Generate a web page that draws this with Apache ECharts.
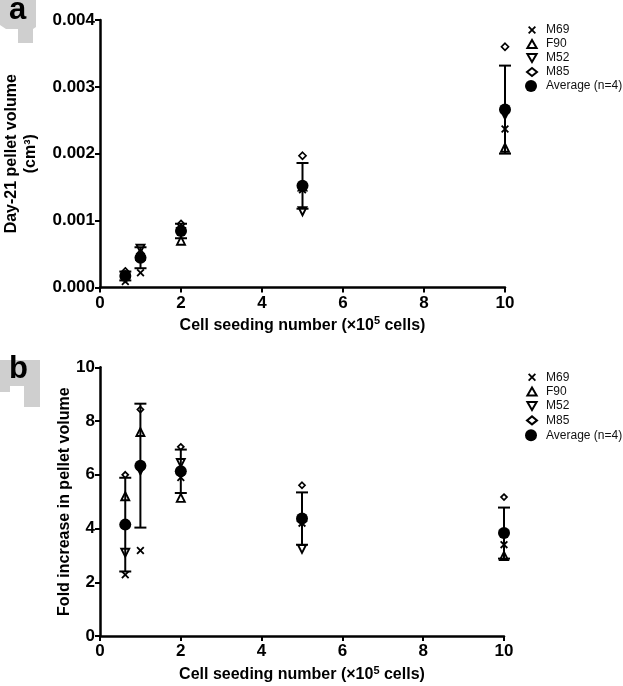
<!DOCTYPE html>
<html>
<head>
<meta charset="utf-8">
<script src="https://cdn.jsdelivr.net/npm/echarts@6/dist/echarts.min.js"></script>
<style>
html,body{margin:0;padding:0;background:#fff;}
#chart{width:623px;height:686px;}
</style>
</head>
<body>
<div id="chart"></div>
<script>
// ---- data ----
const seedingNumbers = [0.625, 1, 2, 5, 10];           // x10^5 cells
const xTicks = [0, 2, 4, 6, 8, 10];
const volumeTicks = [0, 0.001, 0.002, 0.003, 0.004];
const foldTicks = [0, 2, 4, 6, 8, 10];

// Panel a: Day-21 pellet volume (cm^3)
const volM69 = [0.00009, 0.00022, 0.00090, 0.00146, 0.00237];
const volF90 = [0.00021, 0.00047, 0.00070, 0.00151, 0.00209];
const volM52 = [0.00015, 0.00058, 0.00083, 0.00114, 0.00258];
const volM85 = [0.00024, 0.00051, 0.00095, 0.00197, 0.00360];

// Panel b: fold increase in pellet volume
const foldM69 = [2.28, 3.18, 5.90, 4.20, 3.40];
const foldF90 = [5.20, 7.59, 5.14, 4.43, 2.98];
const foldM52 = [3.10, 6.16, 6.44, 3.24, 3.77];
const foldM85 = [6.00, 8.43, 7.04, 5.61, 5.17];

const donorNames = ['M69', 'F90', 'M52', 'M85'];
const avgName = 'Average (n=4)';

// ---- helpers ----
const FONT = '"Liberation Sans", Arial, Helvetica, sans-serif';
function stats(arrs) {
  return seedingNumbers.map((x, i) => {
    const v = arrs.map(a => a[i]);
    const m = v.reduce((s, t) => s + t, 0) / v.length;
    const sd = Math.sqrt(v.reduce((s, t) => s + (t - m) * (t - m), 0) / (v.length - 1));
    return { x, m, sd };
  });
}
const pair = arr => seedingNumbers.map((x, i) => [x, arr[i]]);
const xPath = 'path://M0,1.6L1.6,0L5,3.4L8.4,0L10,1.6L6.6,5L10,8.4L8.4,10L5,6.6L1.6,10L0,8.4L3.4,5Z';
const upPath = 'path://M5,0L10,8.66L0,8.66Z';
const downPath = 'path://M0,0L10,0L5,8.66Z';

function renderErr(params, api) {
  const x = api.value(0), lo = api.value(1), hi = api.value(2);
  const a = api.coord([x, hi]), b = api.coord([x, lo]);
  const hw = 6, st = { stroke: '#000', lineWidth: 2 };
  return { type: 'group', children: [
    { type: 'line', shape: { x1: a[0], y1: a[1], x2: b[0], y2: b[1] }, style: st },
    { type: 'line', shape: { x1: a[0] - hw, y1: a[1], x2: a[0] + hw, y2: a[1] }, style: st },
    { type: 'line', shape: { x1: b[0] - hw, y1: b[1], x2: b[0] + hw, y2: b[1] }, style: st }
  ]};
}

function seriesFor(idx, arrs, diamondSize) {
  const st = stats(arrs);
  const open = { color: '#fff', borderColor: '#000', borderWidth: 1.9, opacity: 1 };
  return [
    { name: 'M69', type: 'scatter', xAxisIndex: idx, yAxisIndex: idx, data: pair(arrs[0]),
      symbol: xPath, symbolSize: 8, itemStyle: { color: '#000', opacity: 1 }, z: 2 },
    { name: 'F90', type: 'scatter', xAxisIndex: idx, yAxisIndex: idx, data: pair(arrs[1]),
      symbol: upPath, symbolSize: 8, itemStyle: open, z: 2 },
    { name: 'M52', type: 'scatter', xAxisIndex: idx, yAxisIndex: idx, data: pair(arrs[2]),
      symbol: downPath, symbolSize: 8, itemStyle: open, z: 2 },
    { name: 'M85', type: 'scatter', xAxisIndex: idx, yAxisIndex: idx, data: pair(arrs[3]),
      symbol: 'diamond', symbolSize: diamondSize, itemStyle: { color: '#fff', borderColor: '#000', borderWidth: 1.7, opacity: 1 }, z: 2 },
    { name: 'err' + idx, type: 'custom', xAxisIndex: idx, yAxisIndex: idx,
      data: st.map(s => [s.x, s.m - s.sd, s.m + s.sd]), renderItem: renderErr, z: 3, silent: true },
    { name: avgName, type: 'scatter', xAxisIndex: idx, yAxisIndex: idx,
      data: st.map(s => [s.x, s.m]), symbol: 'circle', symbolSize: 12, itemStyle: { color: '#000', opacity: 1 }, z: 4 }
  ];
}

const axisLine = { show: true, onZero: false, lineStyle: { color: '#000', width: 2.5 } };
const axisTick = { show: true, length: 5, lineStyle: { color: '#000', width: 2 } };
const labelStyle = { color: '#000', fontSize: 16, fontWeight: 'bold', fontFamily: FONT };
const tickLabelStyle = { color: '#000', fontSize: 17, fontWeight: 'bold', fontFamily: FONT };

function xAxis(idx, gap) {
  return {
    gridIndex: idx, type: 'value', min: xTicks[0], max: xTicks[xTicks.length - 1],
    interval: xTicks[1] - xTicks[0],
    axisLine, axisTick, splitLine: { show: false },
    axisLabel: Object.assign({ margin: 7 }, tickLabelStyle),
    name: '{t|Cell seeding number (×10}{sup|5}{t| cells)}', nameLocation: 'middle', nameGap: gap,
    nameMoveOverlap: false,
    nameTextStyle: Object.assign({ rich: {
      t: { fontSize: 16, fontWeight: 'bold', fontFamily: FONT, color: '#000', lineHeight: 20, verticalAlign: 'middle' },
      sup: { fontSize: 11, fontWeight: 'bold', fontFamily: FONT, color: '#000', lineHeight: 12, verticalAlign: 'top' }
    } }, labelStyle)
  };
}

const legendText = { color: '#111', fontSize: 12, fontFamily: FONT, padding: [0, 0, 0, 4], overflow: 'none' };
function legends(top, avgTop, lh) {
  return [
    { data: donorNames, orient: 'vertical', left: 526, top, padding: 0, itemWidth: 10, itemHeight: 8, itemGap: 0,
      textStyle: Object.assign({ lineHeight: lh }, legendText), selectedMode: false },
    { data: [avgName], orient: 'vertical', left: 525, top: avgTop, padding: 0, width: 98, itemWidth: 12, itemHeight: 12, itemGap: 0,
      textStyle: Object.assign({ lineHeight: lh }, legendText), selectedMode: false }
  ];
}

const option = {
  animation: false,
  backgroundColor: '#fff',
  textStyle: { fontFamily: FONT },
  graphic: [
    { type: 'polygon', shape: { points: [[0,0],[36,0],[36,27],[33,29],[33,43],[18,43],[18,29],[6,29],[0,25]] }, style: { fill: '#cfcfcf' }, z: -1 },
    { type: 'text', left: 9, top: -5, style: { text: 'a', fontSize: 31, fontWeight: 'bold', fontFamily: FONT, fill: '#000' } },
    { type: 'polygon', shape: { points: [[0,360],[40,360],[40,407],[24,407],[24,386],[10,386],[10,392],[0,392]] }, style: { fill: '#cfcfcf' } , z: -1},
    { type: 'text', left: 9, top: 354, style: { text: 'b', fontSize: 31, fontWeight: 'bold', fontFamily: FONT, fill: '#000' } }
  ],
  legend: legends(23, 79, 14).concat(legends(370, 428, 14.4)),
  grid: [
    { left: 100, width: 405, top: 20, height: 267.5, containLabel: false, outerBoundsMode: 'none' },
    { left: 100, width: 404, top: 367.3, height: 268.7, containLabel: false, outerBoundsMode: 'none' }
  ],
  xAxis: [xAxis(0, 28), xAxis(1, 29)],
  yAxis: [
    { gridIndex: 0, type: 'value', min: volumeTicks[0], max: volumeTicks[volumeTicks.length - 1],
      interval: volumeTicks[1] - volumeTicks[0], axisLine, axisTick, splitLine: { show: false },
      axisLabel: Object.assign({ margin: 5, formatter: v => v.toFixed(3) }, tickLabelStyle),
      name: 'Day-21 pellet volume\n(cm³)', nameLocation: 'middle', nameGap: 60, nameRotate: 90,
      nameMoveOverlap: false,
      nameTextStyle: Object.assign({ lineHeight: 19, align: 'center' }, labelStyle) },
    { gridIndex: 1, type: 'value', min: foldTicks[0], max: foldTicks[foldTicks.length - 1],
      interval: foldTicks[1] - foldTicks[0], axisLine, axisTick, splitLine: { show: false },
      axisLabel: Object.assign({ margin: 5 }, tickLabelStyle),
      name: 'Fold increase in pellet volume', nameLocation: 'middle', nameGap: 27, nameRotate: 90,
      nameMoveOverlap: false,
      nameTextStyle: labelStyle }
  ],
  series: seriesFor(0, [volM69, volF90, volM52, volM85], 7)
    .concat(seriesFor(1, [foldM69, foldF90, foldM52, foldM85], 6))
};

const chart = echarts.init(document.getElementById('chart'), null, { renderer: 'canvas' });
chart.setOption(option);
</script>
</body>
</html>
